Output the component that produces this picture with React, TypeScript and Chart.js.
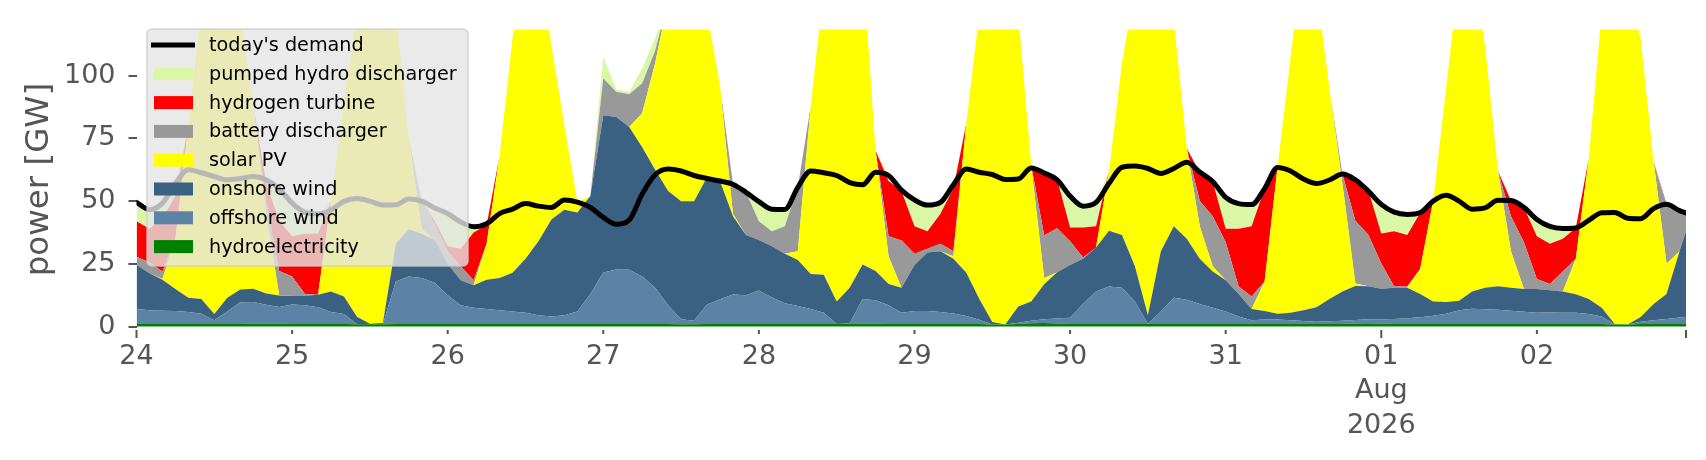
import React, { useEffect, useRef } from 'react';
import { Chart, registerables } from 'chart.js';

Chart.register(...registerables);

const FONT = "'DejaVu Sans', 'Liberation Sans', sans-serif";
const TEXT_GRAY = '#555555';

// time axis: hours since 24 Jul 2026 00:00 (2-hourly samples, last sample at 23:00 on 2 Aug)
const HOURS: number[] = [...Array.from({ length: 120 }, (_, i) => i * 2), 239];
const DAY_TICKS = [0, 24, 48, 72, 96, 120, 144, 168, 192, 216];
const DAY_LABELS: (string | string[])[] = ['24', '25', '26', '27', '28', '29', '30', '31', ['01', 'Aug', '2026'], '02'];
const END_TICK = 239;
const LONG_TICKS = [0, 192, 239];
const Y_TICKS = [0, 25, 50, 75, 100];
const Y_LABEL = 'power [GW]';

// GW, stacked bottom -> top
const hydro = [
  1, 1, 1, 1, 1, 1, 1, 1, 1, 1.1,
  1.2, 1.1, 1, 1, 1, 1, 1, 0.9, 0.9, 0.9,
  1, 1, 1, 1, 1, 1, 1, 1, 1, 1,
  1, 1, 1, 1, 1, 1, 1, 1, 1, 1,
  1, 1, 0.9, 0.9, 1, 1, 1, 1, 1, 1,
  1, 1, 1, 1, 1, 1, 1.1, 1.1, 1, 1,
  1, 1, 1, 1, 1, 1, 0.8, 0.8, 1, 1.3,
  1.4, 1.2, 1, 1, 1, 1, 1, 1, 1, 1,
  1, 1, 1, 1, 1, 1, 1, 1, 1, 1,
  1, 1, 1, 1, 1.2, 1.3, 1.1, 1, 1, 1,
  1, 1, 1, 1, 1, 1, 1, 1, 1, 1,
  1, 1, 1, 1, 0.8, 0.8, 1, 1, 1, 1,
  1,
];
const offshoreWind = [
  6, 5.5, 5.3, 5.2, 4.8, 4.1, 1.5, 5, 8.7, 8.7,
  7.5, 6.7, 7.8, 7.5, 6.7, 4.8, 4, 0, 0, 0,
  17, 19, 18.4, 16.5, 11.5, 7.5, 6.5, 6, 5.5, 5,
  4.5, 3.5, 3, 3.5, 5, 12, 20.6, 21.7, 21.6, 19,
  14.5, 7.5, 2, 1.4, 7.8, 9.9, 11.8, 11.5, 13.4, 10.6,
  8.3, 7.2, 6, 4.5, 0, 0.2, 9.9, 9.4, 7.5, 4.5,
  5.2, 5.2, 4.8, 4.2, 3.2, 1.7, 0, 0, 0.5, 1,
  1.5, 2, 2.5, 8, 13, 15, 14.5, 9, 0, 5,
  10.5, 9.7, 8, 6.5, 5, 3, 1.5, 1.8, 1.8, 1.5,
  1.2, 0.9, 1.1, 1.3, 1.4, 1.6, 1.8, 2, 2.3, 2.7,
  3.3, 4.1, 5.5, 6.1, 5.9, 5.7, 5.3, 4.9, 4.5, 4.6,
  4.5, 4.5, 4, 3, 0, 0, 0.9, 1.5, 2, 2.6,
  2.8,
];
const onshoreWind = [
  17.6, 14.8, 12.4, 8.8, 5.7, 5.9, 2.5, 5.5, 5.1, 5.3,
  4.5, 4.6, 3.5, 3.8, 5, 8.2, 7, 3, 0.2, 0.5,
  15, 18.8, 17.6, 17, 12.5, 10, 9, 11.7, 12.9, 15.5,
  21.5, 29.5, 38.7, 42.1, 39.5, 39, 62.6, 60.8, 56.9, 51.5,
  47, 45.5, 47, 47.6, 50.7, 47.1, 31.2, 24, 20.1, 20.4,
  19.7, 18.3, 14, 15.2, 9, 14.3, 13.7, 11.6, 8.5, 10,
  18.3, 23.3, 24.2, 21.8, 17.3, 8.3, 1, 0, 6.5, 7.7,
  14, 18.5, 21, 18, 17.5, 22.2, 21, 14, 3.5, 24,
  28.5, 24.3, 18, 14.5, 12.5, 9, 4.5, 3.4, 2.3, 3,
  4.3, 5.8, 8.9, 11.7, 13.6, 13.2, 12.2, 12.5, 12.2, 9.3,
  5.7, 4.7, 3.8, 6.9, 8.6, 9.4, 9.2, 9.1, 9.5, 8.9,
  8.5, 7.4, 6, 3.5, 0.2, 0, 1.9, 6.5, 10, 26.4,
  34.2,
];
const solarPV = [
  0, 0, 0.3, 20, 68.5, 117, 145, 138.5, 109.2, 73,
  32, 0.2, 0, 0, 0, 36, 78, 121, 148.8, 143.5,
  92, 36.2, 2, 0, 0, 0, 0, 14.3, 48.6, 93.5,
  118, 116, 69.3, 33.4, 4.1, 0, 0, 0, 0, 13.5,
  42.5, 76, 100, 100, 65.5, 38, 1, 0, 0, 0,
  0, 3.5, 67, 114.3, 140, 134.5, 120.4, 48, 11, 0,
  0, 0, 0, 1, 59.5, 114, 148, 149, 117, 54.3,
  2.5, 0, 0, 0, 0, 23.8, 68.5, 111, 145.5, 110,
  82, 36, 13, 2, 0, 0, 0, 11.8, 58.4, 101.5,
  143.5, 127.3, 84, 43, 1, 0, 0, 0, 0, 10,
  40, 85.2, 129.7, 131, 96.5, 45.9, 14.5, 0, 0, 0,
  0, 14.1, 56, 117.5, 148.8, 139, 111.2, 57, 12, 0,
  0,
];
const batteryDischarger = [
  3.2, 4.2, 3, 0, 0, 0, 0, 0, 0, 0,
  5, 9.5, 7.7, 0.7, 0, 0, 0, 0, 0, 0,
  0, 0, 11, 6.5, 5, 5.5, 2, 0, 0, 0,
  0, 0, 0, 0, 0, 0, 14.8, 10.1, 13.1, 12,
  5, 0, 0, 0, 0, 0, 11.7, 17, 7.5, 6,
  11, 25.5, 0, 0, 0, 0, 0, 0, 8, 18.8,
  4.5, 1.5, 3, 2, 0, 0, 0, 0, 0, 0,
  17, 17.5, 9.5, 0.5, 0, 0, 0, 0, 0, 0,
  0, 0, 10, 20, 15.1, 3, 5, 0, 0, 0,
  0, 0, 0, 3.8, 25, 20.5, 10, 0.5, 0.5, 0,
  0, 0, 0, 0, 0, 0, 14, 18.6, 4, 2.5,
  8, 0, 0, 0, 0, 0, 0, 0, 23, 16.2,
  7.3,
];
const hydrogenTurbine = [
  14.2, 13.5, 21, 17, 0, 0, 0, 0, 0, 0,
  7, 20, 16, 24, 24.3, 0, 0, 0, 0, 0,
  0, 0, 0, 1, 2, 7, 19, 7.5, 0, 0,
  0, 0, 0, 0, 0, 0, 0, 0, 0, 0,
  0, 0, 0, 0, 0, 0, 0, 0, 0, 0,
  0, 0, 0, 0, 0, 0, 0, 0, 22, 19.7,
  11, 7, 12, 25, 0, 0, 0, 0, 0, 0,
  25.2, 19.5, 5.5, 12, 8.5, 0, 0, 0, 0, 0,
  0, 0, 11.6, 13.8, 5.4, 23, 28, 37, 0, 0,
  0, 0, 0, 0, 16.5, 17.7, 12, 22, 20.5, 22.4,
  0, 0, 0, 0, 0, 0, 6.2, 13.9, 17, 16,
  13, 12.3, 0, 0, 0, 0, 0, 0, 0.7, 0,
  0,
];
const pumpedHydroDischarger = [
  7.5, 7.6, 6.2, 5, 0, 0, 0, 0, 0, 0,
  1.5, 13, 13.2, 8.5, 7.9, 0, 0, 0, 0, 0,
  0, 0, 0, 5.3, 13, 10.7, 2.3, 0.5, 0, 0,
  0, 0, 0, 0, 0, 0, 8.6, 1, 0.9, 6,
  5, 0, 0, 0, 0, 0, 0, 0, 7.8, 8.8,
  6.7, 0, 0, 0, 0, 0, 0, 0, 2.2, 0.4,
  10.5, 10.4, 4.5, 1.5, 0, 0, 0, 0, 0, 0,
  0, 0, 12.5, 8.5, 9.5, 0, 0, 0, 0, 0,
  0, 0, 0, 0, 12.5, 10, 8.6, 0, 0, 0,
  0, 0, 0, 0, 0, 0, 11.7, 7.6, 8.2, 0,
  0, 0, 0, 0, 0, 0, 0, 0, 6.7, 6.9,
  4.1, 0, 0, 0, 0, 0, 0, 0, 0, 0,
  0,
];
const todaysDemand = [
  49.5, 46.6, 49.2, 57, 62.5, 61.3, 59.8, 58.5, 59, 59.8,
  58.5, 55, 49.2, 45.5, 44.9, 46.5, 49.9, 51, 50, 48.4,
  48.5, 50.8, 50, 47.3, 45, 41.7, 39.8, 41, 45, 46.8,
  49, 48, 47.5, 50.4, 49.6, 47.5, 43.5, 40.8, 42.5, 52.8,
  60.5, 62.8, 62, 60.2, 59, 58, 56.7, 53.5, 49.8, 46.8,
  46.7, 55.5, 62, 61.3, 60.2, 57.4, 56.5, 61.5, 60.2, 54.4,
  50.5, 48.4, 49.5, 56.5, 62.8, 61.5, 60.6, 58.6, 58.8, 63.2,
  61.2, 58.5, 52, 48, 49.5, 57, 63.5, 64, 63, 61,
  63, 65.5, 61.6, 57.8, 51.5, 49, 48.6, 55, 63.4, 62,
  58.8, 57, 58.4, 60.8, 58.5, 54, 48.7, 45.6, 44.7, 45.4,
  50, 52.3, 50, 46.8, 47.3, 50.3, 50.2, 47.5, 42.7, 39.9,
  39.1, 39.3, 42.3, 45.4, 45.5, 43.2, 43, 47, 48.7, 46.2,
  45.3,
];

const COLORS = {
  demand: '#000000',
  hydro: '#008000',
  offshore: '#5c83a5',
  onshore: '#3b6182',
  solar: '#ffff00',
  battery: '#999999',
  hydrogen: '#ff0000',
  pumped: '#daf7a8',
};

export default function App() {
  const ref = useRef<HTMLCanvasElement>(null);

  useEffect(() => {
    const canvas = ref.current;
    if (!canvas) return;
    const pts = (arr: number[]) => arr.map((v, i) => ({ x: HOURS[i], y: v }));
    const area = (label: string, data: number[], color: string, fill: any) => ({
      label,
      data: pts(data),
      backgroundColor: color,
      borderColor: 'rgba(0,0,0,0)',
      borderWidth: 0,
      pointRadius: 0,
      pointHoverRadius: 0,
      pointHitRadius: 0,
      fill,
      stack: 'supply',
      tension: 0,
      order: 1,
    });

    const decorPlugin = {
      id: 'decor',
      afterDraw(chart: any) {
        const ctx = chart.ctx as CanvasRenderingContext2D;
        const xs = chart.scales.x;
        const area = chart.chartArea;
        ctx.save();
        // x tick marks
        ctx.strokeStyle = TEXT_GRAY;
        ctx.lineWidth = 2;
        xs.ticks.forEach((t: any) => {
          const px = xs.getPixelForValue(t.value);
          const len = LONG_TICKS.includes(t.value) ? 8 : 4;
          ctx.beginPath();
          ctx.moveTo(px, area.bottom);
          ctx.lineTo(px, area.bottom + len);
          ctx.stroke();
        });
        // y axis title
        ctx.translate(48, (area.top + area.bottom) / 2);
        ctx.rotate(-Math.PI / 2);
        ctx.font = `32.5px ${FONT}`;
        ctx.fillStyle = TEXT_GRAY;
        ctx.textAlign = 'center';
        ctx.textBaseline = 'alphabetic';
        ctx.fillText(Y_LABEL, 0, 0);
        ctx.restore();
      },
    };

    const legendPlugin = {
      id: 'insideLegend',
      afterDraw(chart: any) {
        const ctx = chart.ctx as CanvasRenderingContext2D;
        const ds = chart.data.datasets;
        const items = [ds[0], ...ds.slice(1).reverse()];
        const x0 = 147, y0 = 29, w = 321, h = 237;
        ctx.save();
        ctx.beginPath();
        (ctx as any).roundRect(x0, y0, w, h, 5);
        ctx.fillStyle = 'rgba(229,229,229,0.8)';
        ctx.fill();
        ctx.strokeStyle = 'rgba(204,204,204,0.8)';
        ctx.lineWidth = 1.5;
        ctx.stroke();
        ctx.font = `19.2px ${FONT}`;
        ctx.textBaseline = 'middle';
        ctx.textAlign = 'left';
        items.forEach((it: any, i: number) => {
          const cy = 45 + i * 28.8;
          if (it.fill === false) {
            ctx.strokeStyle = it.borderColor;
            ctx.lineWidth = 5;
            ctx.beginPath();
            ctx.moveTo(151, cy);
            ctx.lineTo(195, cy);
            ctx.stroke();
          } else {
            ctx.fillStyle = it.backgroundColor;
            ctx.fillRect(154, cy - 6.5, 39, 13);
          }
          ctx.fillStyle = '#000000';
          ctx.fillText(it.label, 209, cy + 1);
        });
        ctx.restore();
      },
    };

    const chart = new Chart(canvas, {
      type: 'line',
      data: {
        datasets: [
          {
            label: "today's demand",
            data: pts(todaysDemand),
            borderColor: COLORS.demand,
            backgroundColor: COLORS.demand,
            borderWidth: 5,
            pointRadius: 0,
            pointHoverRadius: 0,
            fill: false,
            stack: 'demand',
            cubicInterpolationMode: 'monotone',
            borderJoinStyle: 'round',
            borderCapStyle: 'round',
            order: 0,
          } as any,
          area('hydroelectricity', hydro, COLORS.hydro, 'origin'),
          area('offshore wind', offshoreWind, COLORS.offshore, '-1'),
          area('onshore wind', onshoreWind, COLORS.onshore, '-1'),
          area('solar PV', solarPV, COLORS.solar, '-1'),
          area('battery discharger', batteryDischarger, COLORS.battery, '-1'),
          area('hydrogen turbine', hydrogenTurbine, COLORS.hydrogen, '-1'),
          area('pumped hydro discharger', pumpedHydroDischarger, COLORS.pumped, '-1'),
        ],
      },
      options: {
        animation: false,
        responsive: false,
        maintainAspectRatio: false,
        events: [],
        layout: { padding: { top: 22, right: 20, left: 0, bottom: 0 } },
        plugins: {
          legend: { display: false },
          tooltip: { enabled: false },
          title: { display: false },
        },
        scales: {
          x: {
            type: 'linear',
            min: 0,
            max: END_TICK,
            afterBuildTicks: (s: any) => {
              s.ticks = [...DAY_TICKS, END_TICK].map((v) => ({ value: v }));
            },
            afterFit: (s: any) => {
              s.height = 130;
            },
            ticks: {
              autoSkip: false,
              maxRotation: 0,
              minRotation: 0,
              color: TEXT_GRAY,
              font: { family: FONT, size: 27, lineHeight: 1.28 },
              padding: 9.5,
              callback: (_v: any, i: number) => (DAY_LABELS[i] !== undefined ? DAY_LABELS[i] : ''),
            },
            grid: { display: false, drawTicks: false },
            border: { display: false },
          },
          y: {
            type: 'linear',
            stacked: true,
            min: -1.36,
            max: 118.5,
            afterBuildTicks: (s: any) => {
              s.ticks = Y_TICKS.map((v) => ({ value: v }));
            },
            afterFit: (s: any) => {
              s.width = 136.5;
            },
            ticks: {
              color: TEXT_GRAY,
              font: { family: FONT, size: 27 },
              padding: 13,
              callback: (v: any) => String(v),
            },
            grid: {
              display: true,
              drawOnChartArea: false,
              drawTicks: true,
              tickLength: 8,
              color: TEXT_GRAY,
              lineWidth: 2,
            },
            border: { display: false },
          },
        },
      } as any,
      plugins: [decorPlugin, legendPlugin],
    });

    return () => chart.destroy();
  }, []);

  return (
    <div style={{ position: 'fixed', left: 0, top: 0, width: 1706, height: 460, background: '#ffffff' }}>
      <canvas ref={ref} width={1706} height={460} style={{ width: 1706, height: 460, display: 'block' }} />
    </div>
  );
}
